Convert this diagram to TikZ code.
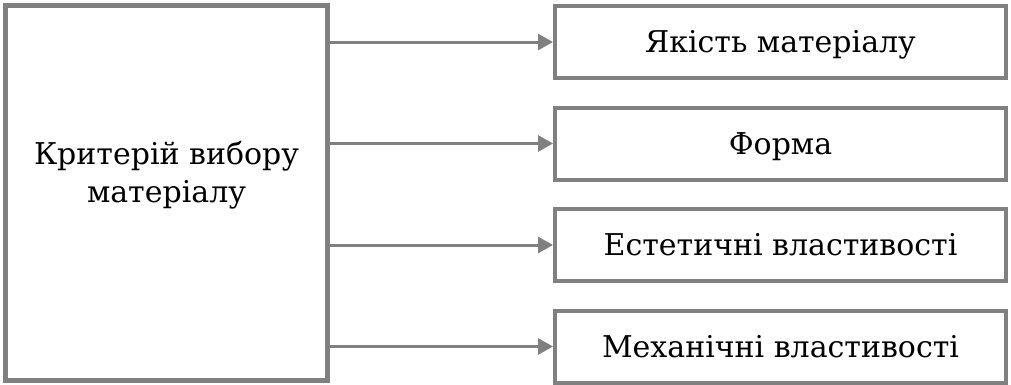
\documentclass[tikz,border=0pt]{standalone}
\usepackage{fontspec}
\setmainfont{DejaVu Serif}
\usepackage{xcolor}
\usetikzlibrary{arrows.meta, positioning}
\definecolor{framegray}{HTML}{808080}

\begin{document}
\begin{tikzpicture}[
    x=1pt, y=1pt,
    node distance=25.5pt,
    mainbox/.style={draw=framegray, line width=5pt, minimum width=322pt,
                    minimum height=375pt, inner sep=0pt},
    critbox/.style={draw=framegray, line width=4pt, minimum width=451pt,
                    minimum height=72pt, inner sep=0pt,
                    text height=21.5pt, text depth=0pt},
    textfont/.style={font=\fontsize{30}{38}\selectfont},
    arrow/.style={-{Triangle[length=15pt, width=16pt]}, line width=3pt, framegray}
  ]
    \useasboundingbox (0,0) rectangle (1011,-384);

    \node[mainbox, label={[textfont, align=center, yshift=17.5pt]center:%
      Критерій вибору\\матеріалу}] (choice) at (166.5,-193) {};

    \node[critbox, textfont] (quality) at (780.5,-42) {Якість матеріалу};
    \node[critbox, textfont, below=of quality] (shape) {Форма};
    \node[critbox, textfont, below=of shape] (aesthetic) {Естетичні властивості};
    \node[critbox, textfont, below=of aesthetic] (mechanic) {Механічні властивості};

    % arrows to each criterion
    \foreach \target in {quality, shape, aesthetic, mechanic}
      \draw[arrow] (choice.east |- \target.west) -- (\target.west);
\end{tikzpicture}
\end{document}
